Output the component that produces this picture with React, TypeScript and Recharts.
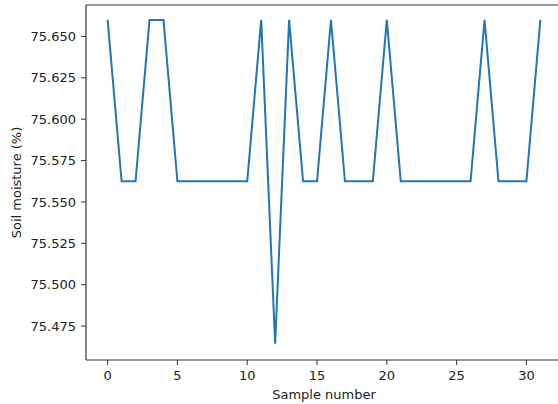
import React from "react";
import {
  LineChart,
  Line,
  XAxis,
  YAxis,
  ReferenceLine,
  Label,
} from "recharts";

// Sample index (x) and soil moisture readings (%)
const SAMPLES = [
  0, 1, 2, 3, 4, 5, 6, 7, 8, 9, 10, 11, 12, 13, 14, 15,
  16, 17, 18, 19, 20, 21, 22, 23, 24, 25, 26, 27, 28, 29, 30, 31,
];
const MOISTURE = [
  75.66, 75.5625, 75.5625, 75.66, 75.66, 75.5625, 75.5625, 75.5625,
  75.5625, 75.5625, 75.5625, 75.66, 75.4643, 75.66, 75.5625, 75.5625,
  75.66, 75.5625, 75.5625, 75.5625, 75.66, 75.5625, 75.5625, 75.5625,
  75.5625, 75.5625, 75.5625, 75.66, 75.5625, 75.5625, 75.5625, 75.66,
];
const X_TICKS = [0, 5, 10, 15, 20, 25, 30];
const Y_TICKS = [75.475, 75.5, 75.525, 75.55, 75.575, 75.6, 75.625, 75.65];

const X_DOMAIN: [number, number] = [-1.55, 32.55];
const Y_DOMAIN: [number, number] = [75.4545, 75.669];

const data = SAMPLES.map((s, i) => ({ sample: s, moisture: MOISTURE[i] }));

const FONT = "'DejaVu Sans', sans-serif";
const tickStyle = { fontSize: 13, fill: "#222", fontFamily: FONT };

const YLabel = ({ viewBox }: any) => {
  const cy = viewBox.y + viewBox.height / 2;
  return (
    <text
      x={21}
      y={cy}
      transform={`rotate(-90, 21, ${cy})`}
      textAnchor="middle"
      fontSize={13}
      fontFamily={FONT}
      fill="#222"
    >
      Soil moisture (%)
    </text>
  );
};

export default function App() {
  return (
    <div
      style={{
        position: "absolute",
        left: 0,
        top: 0,
        width: 558,
        height: 404,
        overflow: "hidden",
        background: "#fff",
      }}
    >
      <LineChart
        width={566}
        height={404}
        data={data}
        margin={{ top: 5, right: 4, bottom: 0, left: 0 }}
      >
        <XAxis
          dataKey="sample"
          type="number"
          domain={X_DOMAIN}
          ticks={X_TICKS}
          allowDataOverflow
          height={44}
          tick={tickStyle}
          tickSize={5}
          tickMargin={6}
          stroke="#333"
          axisLine={{ stroke: "#333", strokeWidth: 1.2 }}
          tickLine={{ stroke: "#333" }}
        >
          <Label
            value="Sample number"
            position="insideBottom"
            offset={5}
            style={{ fontSize: 13, fill: "#222", fontFamily: FONT }}
          />
        </XAxis>
        <YAxis
          type="number"
          domain={Y_DOMAIN}
          ticks={Y_TICKS}
          allowDataOverflow
          width={86}
          tick={tickStyle}
          tickSize={5}
          tickMargin={5}
          tickFormatter={(v: number) => v.toFixed(3)}
          axisLine={{ stroke: "#333", strokeWidth: 1.2 }}
          tickLine={{ stroke: "#333" }}
        >
          <Label content={<YLabel />} />
        </YAxis>
        <ReferenceLine y={Y_DOMAIN[1]} stroke="#333" strokeWidth={1.2} />
        <Line
          type="linear"
          dataKey="moisture"
          stroke="#1f77b4"
          strokeWidth={2}
          dot={false}
          isAnimationActive={false}
        />
      </LineChart>
    </div>
  );
}
